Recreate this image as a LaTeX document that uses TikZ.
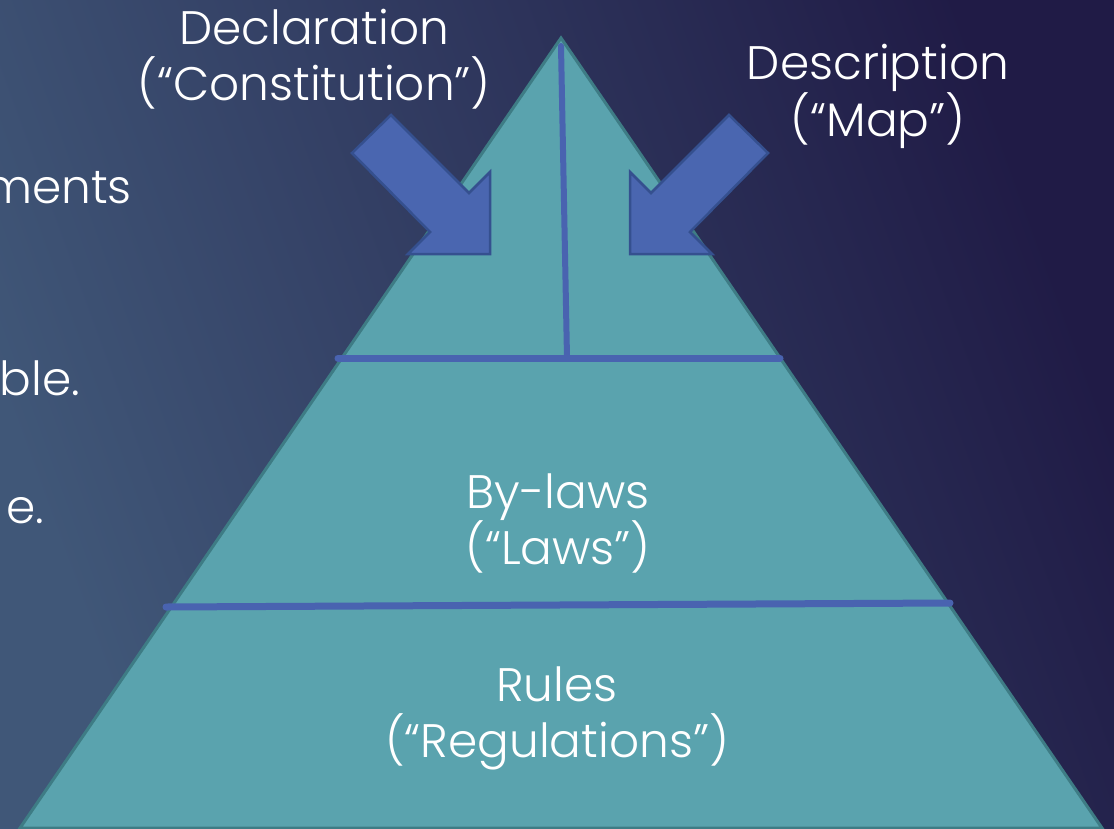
\documentclass[tikz,border=0pt]{standalone}
\usepackage{fontspec}
\setmainfont{Poppins}[UprightFont=* Light]
\definecolor{bgleft}{HTML}{405778}
\definecolor{bgright}{HTML}{201B46}
\definecolor{teal}{HTML}{5AA3AE}
\definecolor{tealedge}{HTML}{3E7C85}
\definecolor{divblue}{HTML}{4963B0}
\definecolor{arrowfill}{HTML}{4A66B0}
\definecolor{arrowedge}{HTML}{35508F}
\begin{document}
\begin{tikzpicture}[x=1pt,y=-1pt,
  label/.style={text=white,font=\fontsize{47}{56}\selectfont,align=center,inner sep=0pt},
  divider/.style={draw=divblue,line width=7pt,line cap=round},
  blockarrow/.style={fill=arrowfill,draw=arrowedge,line width=2.5pt,line join=miter}]
\useasboundingbox (0,0) rectangle (1114,828);
% backdrop, lighter towards the lower left
\shade[left color=bgleft,right color=bgright,shading angle=110] (0,0) rectangle (1114,828);
% text running in from the left margin
\node[label,anchor=base east] (frag1) at (132,203) {ments};
\node[label,anchor=base east] (frag2) at (80,395) {ble.};
\node[label,anchor=base east] (frag3) at (44,523) {e.};
% pyramid body
\coordinate (apex) at (561,38);
\coordinate (bl) at (20,828);
\coordinate (br) at (1102,828);
\draw[fill=teal,draw=tealedge,line width=3pt,line join=miter] (apex) -- (br) -- (bl) -- cycle;
% tier dividers
\coordinate (u1) at (338,358);
\coordinate (u2) at (780,358);
\coordinate (l1) at (166,607);
\coordinate (l2) at (950,603);
\coordinate (vtop) at (561,46);
\coordinate (vbot) at (567,358);
\draw[divider] (u1) -- (u2);
\draw[divider] (l1) -- (l2);
\draw[divider,line width=6pt] (vtop) -- (vbot);
% inward arrows
\draw[blockarrow] (391,115) -- (469,193) -- (490,172) -- (490,254) -- (408,254) -- (430,232) -- (352,153) -- cycle;
\draw[blockarrow] (729,115) -- (651,193) -- (630,172) -- (630,254) -- (712,254) -- (690,232) -- (768,153) -- cycle;
% labels
\node[label] (decl) at (314,59) {Declaration\\(“Constitution”)};
\node[label] (desc) at (878,96) {Description\\(“Map”)};
\node[label] (bylaws) at (558,523) {By-laws\\(“Laws”)};
\node[label] (rules) at (557,718) {Rules\\(“Regulations”)};
\end{tikzpicture}
\end{document}
